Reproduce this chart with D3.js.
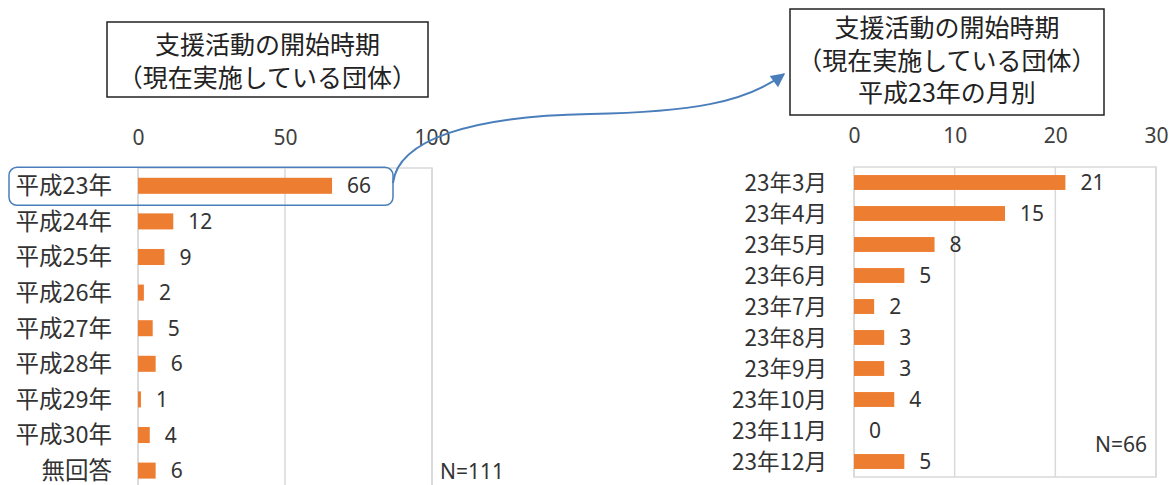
<!DOCTYPE html>
<html><head><meta charset="utf-8">
<script src="https://cdn.jsdelivr.net/npm/d3@7"></script>
<style>
html,body{margin:0;padding:0;background:#fff;}
text{font-family:"Noto Sans CJK JP","Noto Sans",sans-serif;}
</style></head>
<body>
<svg id="c" width="1173" height="485"></svg>
<script>
const yearCats = ["平成23年","平成24年","平成25年","平成26年","平成27年","平成28年","平成29年","平成30年","無回答"];
const yearVals = [66,12,9,2,5,6,1,4,6];
const yearTicks = [0,50,100];
const monthCats = ["23年3月","23年4月","23年5月","23年6月","23年7月","23年8月","23年9月","23年10月","23年11月","23年12月"];
const monthVals = [21,15,8,5,2,3,3,4,0,5];
const monthTicks = [0,10,20,30];
const titleLeft = ["支援活動の開始時期","（現在実施している団体）"];
const titleRight = ["支援活動の開始時期","（現在実施している団体）","平成23年の月別"];
const nLeft = "N=111", nRight = "N=66";

const svg = d3.select("#c");
const BAR = "#ed7d31", GRID = "#d9d9d9", TXT = "#333333";

function chart(cfg){
  const x = d3.scaleLinear().domain(cfg.domain).range([cfg.x0, cfg.x1]);
  const y = d3.scaleBand().domain(cfg.cats).range([cfg.y0, cfg.y0 + cfg.band*cfg.cats.length]).paddingInner(cfg.pad).paddingOuter(cfg.pad/2);
  const g = svg.append("g");
  const yb = Math.min(cfg.y0 + cfg.band*cfg.cats.length, 500);
  g.selectAll("line.grid").data(cfg.ticks).join("line")
    .attr("x1", d=>x(d)).attr("x2", d=>x(d)).attr("y1", cfg.y0).attr("y2", yb)
    .attr("stroke", GRID).attr("stroke-width", 1.5);
  g.append("rect").attr("x", cfg.x0).attr("y", cfg.y0).attr("width", cfg.x1-cfg.x0).attr("height", yb-cfg.y0)
    .attr("fill","none").attr("stroke",GRID).attr("stroke-width",1.5);
  const ax = d3.axisTop(x).tickValues(cfg.ticks).tickSize(0).tickPadding(0);
  const axg = g.append("g").attr("transform", `translate(0,${cfg.tickY})`).call(ax);
  axg.select(".domain").remove();
  axg.selectAll("text").attr("font-size", 21).attr("fill", "#404040").attr("dy", 0)
     .style("font-family", '"Noto Sans","Noto Sans CJK JP",sans-serif');
  g.selectAll("rect.bar").data(cfg.vals).join("rect")
    .attr("x", x(0)).attr("y", (d,i)=>y(cfg.cats[i]))
    .attr("width", d=>x(d)-x(0)).attr("height", y.bandwidth()).attr("fill", BAR);
  g.selectAll("text.val").data(cfg.vals).join("text")
    .attr("x", d=>x(d)+15).attr("y", (d,i)=>y(cfg.cats[i])+y.bandwidth()/2)
    .attr("dy","0.36em").attr("font-size",21).attr("fill",TXT)
    .style("font-family", '"Noto Sans","Noto Sans CJK JP",sans-serif')
    .text(d=>d);
  const ay = d3.axisLeft(y).tickSize(0).tickPadding(0);
  const ayg = g.append("g").attr("transform", `translate(${cfg.catX},0)`).call(ay);
  ayg.select(".domain").remove();
  ayg.selectAll("text").attr("font-size", cfg.catFs).attr("fill", TXT).attr("dy","0.36em")
     .style("font-family", '"Noto Sans CJK JP",sans-serif');
  return {x,y};
}

const L = chart({domain:[0,100], x0:138, x1:432, y0:168, band:35.6, pad:0.55, cats:yearCats, vals:yearVals, ticks:yearTicks, tickY:145, catX:112, catFs:23.5});
const R = chart({domain:[0,30], x0:854, x1:1156, y0:167, band:31, pad:0.52, cats:monthCats, vals:monthVals, ticks:monthTicks, tickY:143, catX:827, catFs:22.5});

svg.append("text").attr("x",440).attr("y",479).attr("font-size",21).attr("fill",TXT)
  .style("font-family",'"Noto Sans",sans-serif').text(nLeft);
svg.append("text").attr("x",1147).attr("y",452).attr("text-anchor","end").attr("font-size",21).attr("fill",TXT)
  .style("font-family",'"Noto Sans",sans-serif').text(nRight);

function titleBox(x0,y0,w,h,lines,firstY,step){
  svg.append("rect").attr("x",x0).attr("y",y0).attr("width",w).attr("height",h)
    .attr("fill","#fff").attr("stroke","#222").attr("stroke-width",1.5);
  svg.selectAll(null).data(lines).join("text")
    .attr("x", x0+w/2).attr("y",(d,i)=>firstY+i*step).attr("dy","0.36em")
    .attr("text-anchor","middle").attr("font-size",25).attr("fill","#222").text(d=>d);
}
titleBox(107,22,321,75,titleLeft,44.5,33);
titleBox(790,9,314,106,titleRight,28,32.5);

svg.append("rect").attr("x",9).attr("y",L.y(yearCats[0])-10.5).attr("width",384).attr("height",38)
  .attr("rx",8).attr("ry",8).attr("fill","none").attr("stroke","#4a7ebb").attr("stroke-width",1.5);

const defs = svg.append("defs");
defs.append("marker").attr("id","ah").attr("viewBox","0 0 10 10").attr("refX",9).attr("refY",5)
  .attr("markerWidth",9).attr("markerHeight",7).attr("markerUnits","strokeWidth").attr("orient","auto")
  .append("path").attr("d","M0,0 L10,5 L0,10 z").attr("fill","#4a7ebb");
svg.append("path").attr("d","M393,183 C398,140 470,116 590,114 C690,112 745,103 784,74")
  .attr("fill","none").attr("stroke","#4a7ebb").attr("stroke-width",2).attr("marker-end","url(#ah)");
</script>
</body></html>
